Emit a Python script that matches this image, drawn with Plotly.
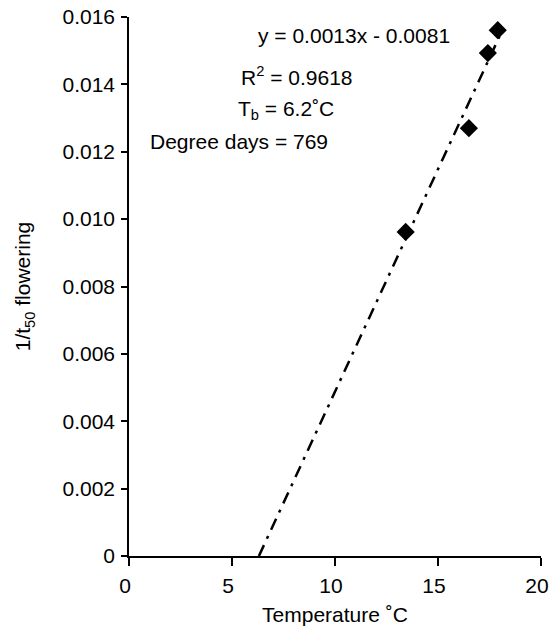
import numpy as np
import plotly.graph_objects as go

temperature = [13.43, 16.5, 17.42, 17.9]
rate = [0.00962, 0.0127, 0.01493, 0.01561]

x_ticks = [0, 5, 10, 15, 20]
y_ticks = [0, 0.002, 0.004, 0.006, 0.008, 0.010, 0.012, 0.014, 0.016]
y_tick_labels = ["0", "0.002", "0.004", "0.006", "0.008", "0.010", "0.012", "0.014", "0.016"]

eq_text = "y = 0.0013x - 0.0081"
r2_text = "R<sup>2</sup> = 0.9618"
tb_text = "T<sub>b</sub> = 6.2˚C"
dd_text = "Degree days = 769"

slope, intercept = np.polyfit(temperature, rate, 1)
x0 = -intercept / slope
x1 = max(temperature) + 0.2
line_x = [x0, x1]
line_y = [slope * v + intercept for v in line_x]

FONT = "Liberation Sans, Arial, sans-serif"
FS = 21

fig = go.Figure()
fig.add_trace(go.Scatter(
    x=line_x, y=line_y, mode="lines",
    line=dict(color="black", width=2.5, dash="12px,7px,3px,7px"),
    showlegend=False, hoverinfo="skip"))
fig.add_trace(go.Scatter(
    x=temperature, y=rate, mode="markers",
    marker=dict(symbol="diamond", size=14, color="black"),
    showlegend=False))

ann = [
    (eq_text, 256, 36),
    (r2_text, 239, 76),
    (tb_text, 236, 110),
    (dd_text, 148, 141),
]
W, H = 550, 626
L, R, T, B = 129, 9, 17, 70
pw, ph = W - L - R, H - T - B
for txt, px, py in ann:
    fig.add_annotation(
        text=txt, xref="paper", yref="paper",
        x=(px - L) / pw, y=(H - B - py) / ph,
        xanchor="left", yanchor="middle", showarrow=False,
        font=dict(size=FS, color="black", family=FONT))

axis_common = dict(
    showline=True, linecolor="black", linewidth=1.5,
    ticks="outside", tickwidth=1.5, tickcolor="black",
    showgrid=False, zeroline=False, automargin=False,
    ticklabeloverflow="allow",
    tickfont=dict(size=FS, color="black", family=FONT),
)
fig.update_xaxes(
    range=[0, 20], tickvals=x_ticks, ticklen=8, ticklabelstandoff=2, ticklabelshift=-4,
    title=dict(text="Temperature ˚C", font=dict(size=FS, color="black", family=FONT), standoff=13),
    **axis_common)
fig.update_yaxes(
    range=[0, 0.016], tickvals=y_ticks, ticktext=y_tick_labels, ticklen=6, ticklabelstandoff=2,
    title=dict(text="1/t<sub>50</sub> flowering", font=dict(size=FS, color="black", family=FONT), standoff=26),
    **axis_common)

fig.update_layout(
    width=W, height=H,
    margin=dict(l=L, r=R, t=T, b=B),
    paper_bgcolor="white", plot_bgcolor="white",
    font=dict(family=FONT, color="black"),
)
fig.write_html(
    "out.html",
    config={"displayModeBar": False},
    post_script="document.body.style.margin='0';document.body.style.overflow='hidden';",
)
